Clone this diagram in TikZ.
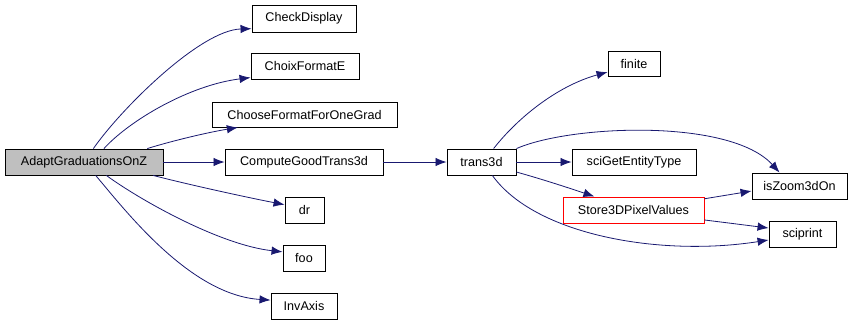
\documentclass[tikz,border=0pt]{standalone}
\usepackage{fontspec}
\setmainfont{Liberation Sans}
\usetikzlibrary{arrows.meta}
\definecolor{callEdge}{RGB}{25,25,112}
\definecolor{rootFill}{RGB}{191,191,191}
\definecolor{refBorder}{RGB}{255,0,0}
\tikzset{
    every node/.append style={align=center},
    fn/.style={rectangle,draw=black,line width=0.9pt,inner sep=0pt,minimum height=26pt,
        font=\fontsize{12.6}{15}\selectfont},
    call/.style={-{Latex[length=11pt,width=8.5pt]},draw=callEdge,line width=0.8pt}
}
\begin{document}
\begin{tikzpicture}[x=1pt,y=-1pt]
    \useasboundingbox (0,0) rectangle (855,322);

    \node[fn,fill=rootFill,minimum width=158pt] (adapt) at (84,162) {AdaptGraduationsOnZ};
    \node[fn,minimum width=104pt,minimum height=27pt] (checkdisp) at (304,18.5) {CheckDisplay};
    \node[fn,minimum width=108pt] (choix) at (305,66) {ChoixFormatE};
    \node[fn,minimum width=185pt,minimum height=25pt] (choose) at (304.5,114.5) {ChooseFormatForOneGrad};
    \node[fn,minimum width=158pt] (compute) at (304,162) {ComputeGoodTrans3d};
    \node[fn,minimum width=39pt] (dr) at (304.5,210) {dr};
    \node[fn,minimum width=42pt] (foo) at (304,258) {foo};
    \node[fn,minimum width=66pt] (invaxis) at (304,306) {InvAxis};

    \node[fn,minimum width=69pt] (trans) at (481.5,162) {trans3d};
    \node[fn,minimum width=52pt,minimum height=25pt] (finite) at (634,63.5) {finite};
    \node[fn,minimum width=124pt] (entity) at (634,162) {sciGetEntityType};
    \node[fn,draw=refBorder,minimum width=141pt] (store) at (633.5,210) {Store3DPixelValues};
    \node[fn,minimum width=95pt] (iszoom) at (799.5,186) {isZoom3dOn};
    \node[fn,minimum width=67pt] (sciprint) at (802.5,234) {sciprint};

    \draw[call] (adapt.55) .. controls (120,110) and (200,30) .. (checkdisp.191.4);
    \draw[call] (adapt.34.4) .. controls (130,120) and (190,85) .. (choix.192.5);
    \draw[call] (adapt.12.4) .. controls (175,140) and (210,132) .. (choose.191.5);
    \draw[call] (adapt) -- (compute);
    \draw[call] (adapt.-11.7) .. controls (190,185) and (250,198) .. (dr.165.6);
    \draw[call] (adapt.-31.8) .. controls (140,200) and (220,245) .. (foo.164);
    \draw[call] (adapt.-49.8) .. controls (125,210) and (190,295) .. (invaxis.170);

    \draw[call] (compute) -- (trans);

    \draw[call] (trans.48.5) .. controls (520,115) and (560,85) .. (finite.198);
    \draw[call] (trans.21.2) .. controls (570,125) and (730,118) .. (iszoom.146.3);
    \draw[call] (trans) -- (entity);
    \draw[call] (trans.-16.6) .. controls (545,180) and (575,190) .. (store.161.3);
    \draw[call] (trans.-51) .. controls (535,235) and (660,257) .. (sciprint.190);

    \draw[call] (store.9.7) -- (iszoom.186);
    \draw[call] (store.-8.9) -- (sciprint.170);
\end{tikzpicture}
\end{document}
